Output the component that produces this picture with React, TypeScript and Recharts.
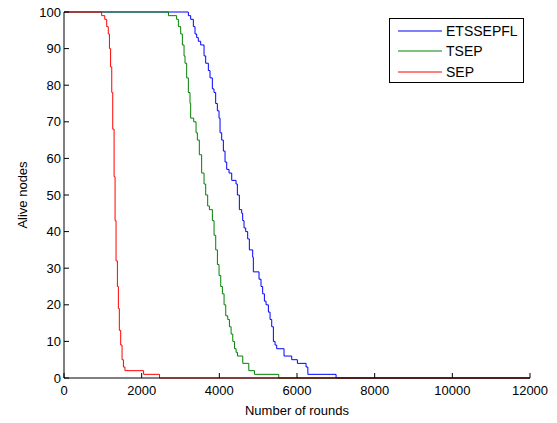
import React from 'react'
import { LineChart, Line, XAxis, YAxis, Legend } from 'recharts'

// rounds at which the alive count changes, and the count from that round on
const etsRounds = [0, 3202, 3262, 3331, 3374, 3417, 3459, 3520, 3606, 3649, 3717, 3760, 3820, 3863, 3906, 3949, 3992, 4018, 4061, 4104, 4147, 4190, 4250, 4319, 4430, 4464, 4516, 4576, 4601, 4636, 4679, 4730, 4773, 4859, 4876, 5022, 5073, 5116, 5160, 5203, 5263, 5306, 5349, 5392, 5435, 5478, 5666, 5864, 6010, 6233, 6280, 7006, 12000]
const etsAlive = [100, 99, 98, 96, 94, 93, 92, 91, 88, 86, 84, 82, 79, 78, 75, 73, 71, 67, 65, 62, 59, 57, 56, 54, 53, 50, 46, 45, 43, 41, 40, 38, 35, 33, 29, 27, 25, 23, 21, 20, 18, 16, 14, 10, 9, 8, 6, 5, 4, 3, 1, 0, 0]

const tsepRounds = [0, 2690, 2900, 2945, 3005, 3048, 3091, 3116, 3159, 3202, 3245, 3262, 3340, 3400, 3434, 3485, 3545, 3606, 3649, 3700, 3744, 3821, 3864, 3907, 3950, 3993, 4036, 4079, 4122, 4165, 4217, 4260, 4303, 4346, 4389, 4432, 4467, 4604, 4759, 4905, 5530, 12000]
const tsepAlive = [100, 99, 98, 96, 94, 91, 88, 86, 82, 78, 75, 71, 70, 67, 65, 61, 56, 53, 50, 47, 46, 43, 39, 35, 31, 28, 25, 23, 20, 17, 16, 14, 12, 10, 8, 7, 6, 4, 2, 1, 0, 0]

const sepRounds = [0, 970, 1050, 1100, 1140, 1170, 1200, 1230, 1255, 1290, 1315, 1340, 1375, 1400, 1425, 1460, 1495, 1530, 1570, 2050, 2460, 12000]
const sepAlive = [100, 99, 98, 96, 94, 90, 85, 78, 68, 55, 43, 32, 25, 19, 13, 9, 5, 3, 2, 1, 0, 0]

const xTicks = [0, 2000, 4000, 6000, 8000, 10000, 12000]
const yTicks = [0, 10, 20, 30, 40, 50, 60, 70, 80, 90, 100]

const series = [
  { name: 'ETSSEPFL', color: '#0000ff', rounds: etsRounds, alive: etsAlive },
  { name: 'TSEP', color: '#008000', rounds: tsepRounds, alive: tsepAlive },
  { name: 'SEP', color: '#ff0000', rounds: sepRounds, alive: sepAlive },
]

const FONT = '"Liberation Sans", Arial, Helvetica, sans-serif'
const tickStyle = { fill: '#000', fontSize: 13, fontFamily: FONT }

const toPoints = (rounds: number[], alive: number[]) =>
  rounds.map((r, i) => ({ x: r, y: alive[i] }))

function LegendBox() {
  return (
    <div
      style={{
        width: 135,
        height: 65,
        border: '1px solid #000',
        background: '#fff',
        boxSizing: 'border-box',
        paddingTop: 2,
        fontFamily: FONT,
        fontSize: 14,
        color: '#000',
      }}
    >
      {series.map((s) => (
        <div key={s.name} style={{ height: 20.3, display: 'flex', alignItems: 'center' }}>
          <svg width={56} height={4} style={{ display: 'block' }}>
            <line x1={8} x2={52} y1={2} y2={2} stroke={s.color} strokeWidth={1} />
          </svg>
          <span style={{ lineHeight: '16px' }}>{s.name}</span>
        </div>
      ))}
    </div>
  )
}

export default function App() {
  return (
    <div style={{ position: 'absolute', left: 0, top: 0, background: '#fff' }}>
      <LineChart width={557} height={423} margin={{ top: 12, right: 27, bottom: 0, left: 0 }}>
        <XAxis
          dataKey="x"
          type="number"
          domain={[0, 12000]}
          ticks={xTicks}
          interval={0}
          height={45}
          stroke="#000"
          tickSize={-5}
          tickMargin={13}
          tick={tickStyle}
          label={{ value: 'Number of rounds', position: 'insideBottom', offset: 8, fill: '#000', fontSize: 13, fontFamily: FONT }}
        />
        <XAxis
          xAxisId="top"
          orientation="top"
          type="number"
          domain={[0, 12000]}
          allowDataOverflow
          ticks={xTicks}
          interval={0}
          height={0}
          stroke="#000"
          tickSize={-5}
          tick={false}
        />
        <YAxis
          type="number"
          domain={[0, 100]}
          ticks={yTicks}
          interval={0}
          width={64}
          stroke="#000"
          tickSize={-5}
          tickMargin={8}
          tick={tickStyle}
          label={{ value: 'Alive nodes', angle: -90, position: 'insideLeft', offset: 22, style: { textAnchor: 'middle' }, fill: '#000', fontSize: 13, fontFamily: FONT }}
        />
        <YAxis
          yAxisId="right"
          orientation="right"
          type="number"
          domain={[0, 100]}
          allowDataOverflow
          ticks={yTicks}
          interval={0}
          width={0}
          stroke="#000"
          tickSize={-5}
          tick={false}
        />
        <Legend
          layout="vertical"
          align="center"
          verticalAlign="middle"
          content={() => <LegendBox />}
          wrapperStyle={{ left: 389, top: 18, width: 135, height: 65 }}
        />
        {series.map((s) => (
          <Line
            key={s.name}
            name={s.name}
            data={toPoints(s.rounds, s.alive)}
            dataKey="y"
            type="stepAfter"
            stroke={s.color}
            strokeWidth={1}
            dot={false}
            activeDot={false}
            isAnimationActive={false}
          />
        ))}
      </LineChart>
    </div>
  )
}
